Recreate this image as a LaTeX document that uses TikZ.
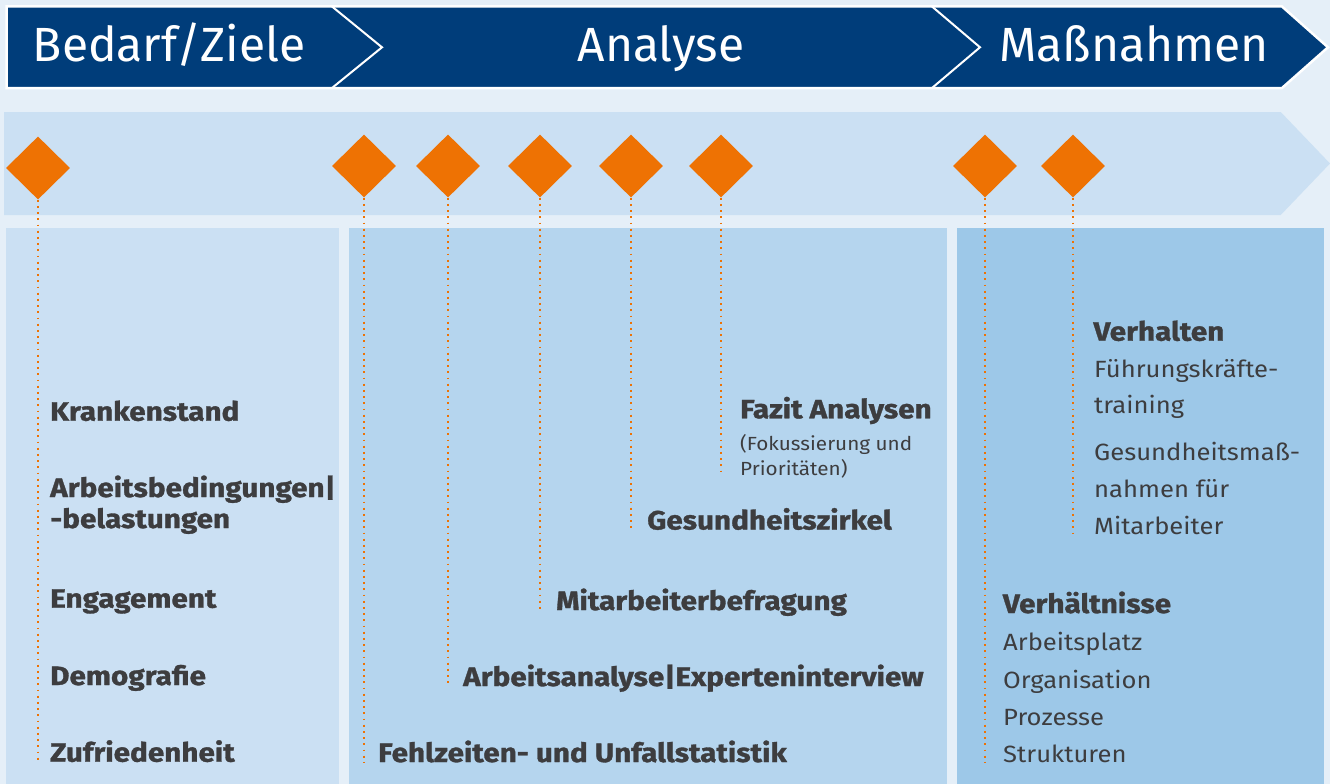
\documentclass[tikz,border=0pt]{standalone}
\usepackage{fontspec}
\setmainfont{Fira Sans}
\newfontfamily\myreg{Fira Sans}[FakeStretch=1.09]
\newfontfamily\mybold{Fira Sans}[FakeStretch=1.12,FakeBold=1.2]
\usetikzlibrary{shapes.geometric}
\definecolor{bg}{HTML}{E5EFF8}
\definecolor{navy}{HTML}{003D7A}
\definecolor{band}{HTML}{CBE0F3}
\definecolor{pone}{HTML}{CBE0F3}
\definecolor{ptwo}{HTML}{B5D5EE}
\definecolor{pthree}{HTML}{9DC8E8}
\definecolor{orng}{HTML}{EE7203}
\definecolor{txtgray}{HTML}{3D3D3F}
\tikzset{
  banner/.style={anchor=base, inner sep=0, text=white, font=\fontsize{48}{50}\selectfont},
  dia/.style={diamond, fill=orng, draw=none, minimum width=64pt, minimum height=63pt, inner sep=0},
  boldtxt/.style={anchor=base west, inner sep=0, text=txtgray, font=\mybold\fontsize{26.5}{30}\selectfont\bfseries},
  rbold/.style={anchor=base west, inner sep=0, text=txtgray, font=\mybold\fontsize{26.5}{30}\selectfont\bfseries},
  regtxt/.style={anchor=base west, inner sep=0, text=txtgray, font=\myreg\fontsize{23.5}{28}\selectfont},
  smalltxt/.style={anchor=base west, inner sep=0, text=txtgray, font=\myreg\fontsize{19}{22}\selectfont},
  dots/.style={draw=orng, line width=1.8pt, dash pattern=on 1.8pt off 4.4pt}
}
\begin{document}
\begin{tikzpicture}[x=1pt,y=-1pt]
\useasboundingbox (0,0) rectangle (1330,784);
\fill[bg] (0,0) rectangle (1330,784);
% banner
\filldraw[fill=navy, draw=white, line width=2.5pt] (6.5,6.5) -- (1282,6.5) -- (1328,47.3) -- (1282,88) -- (6.5,88) -- cycle;
\draw[white, line width=2pt] (332,6.5) -- (382,47.3) -- (332,88);
\draw[white, line width=2pt] (932,6.5) -- (980,47.3) -- (932,88);
\node[banner] (h1) at (169,61.7) {Bedarf/Ziele};
\node[banner] (h2) at (661,61.7) {Analyse};
\node[banner] (h3) at (1134,61.7) {Maßnahmen};
% band
\fill[band] (4,112) -- (1280.7,112) -- (1330,163.5) -- (1280.7,215) -- (4,215) -- cycle;
% panels
\fill[pone] (6,228) rectangle (339,784);
\fill[ptwo] (349,228) rectangle (946.5,784);
\fill[pthree] (956.5,228) rectangle (1324,784);
% diamonds
\node[dia] (d1) at (38,168) {};
\node[dia] (d2) at (364,166) {};
\node[dia] (d3) at (448,166) {};
\node[dia] (d4) at (540,166) {};
\node[dia] (d5) at (631,166) {};
\node[dia] (d6) at (721,166) {};
\node[dia] (d7) at (985,166) {};
\node[dia] (d8) at (1073,166) {};
% left texts
\node[boldtxt] (kr) at (50,420.7) {Krankenstand};
\node[boldtxt] (ab) at (50,497) {Arbeitsbedingungen|};
\node[boldtxt] (bel) at (50,528) {-belastungen};
\node[boldtxt] (en) at (50,607.7) {Engagement};
\node[boldtxt] (de) at (50,685) {Demografie};
\node[boldtxt] (zu) at (50,761.7) {Zufriedenheit};
% middle texts
\node[rbold] (fa) at (740,418.3) {Fazit Analysen};
\node[smalltxt] (fo) at (740,450) {(Fokussierung und};
\node[smalltxt] (pr) at (740,475) {Prioritäten)};
\node[boldtxt] (gz) at (647,529.5) {Gesundheitszirkel};
\node[boldtxt] (mb) at (556,610) {Mitarbeiterbefragung};
\node[boldtxt] (aa) at (463,686) {Arbeitsanalyse|Experteninterview};
\node[boldtxt] (fz) at (378,762) {Fehlzeiten- und Unfallstatistik};
% right texts
\node[rbold] (vh) at (1093.3,340.7) {Verhalten};
\node[regtxt] (fk) at (1094,377) {Führungskräfte-};
\node[regtxt] (tr) at (1094,413) {training};
\node[regtxt] (gm) at (1094,460.7) {Gesundheitsmaß-};
\node[regtxt] (nf) at (1094,497) {nahmen für};
\node[regtxt] (mi) at (1094,534) {Mitarbeiter};
\node[rbold] (vn) at (1002.7,613) {Verhältnisse};
\node[regtxt] (ap) at (1003,650) {Arbeitsplatz};
\node[regtxt] (or) at (1003,688) {Organisation};
\node[regtxt] (pz) at (1003,725.7) {Prozesse};
\node[regtxt] (st) at (1003,762.7) {Strukturen};
% dotted connectors
\draw[dots] (d1.south) -- (d1.south |- zu.base);
\draw[dots] (d2.south) -- (d2.south |- fz.base);
\draw[dots] (d3.south) -- (d3.south |- aa.base);
\draw[dots] (d4.south) -- (d4.south |- mb.base);
\draw[dots] (d5.south) -- (d5.south |- gz.base);
\draw[dots] (d6.south) -- (d6.south |- pr.base);
\draw[dots] (d7.south) -- (d7.south |- st.base);
\draw[dots] (d8.south) -- (d8.south |- mi.base);
\end{tikzpicture}
\end{document}
